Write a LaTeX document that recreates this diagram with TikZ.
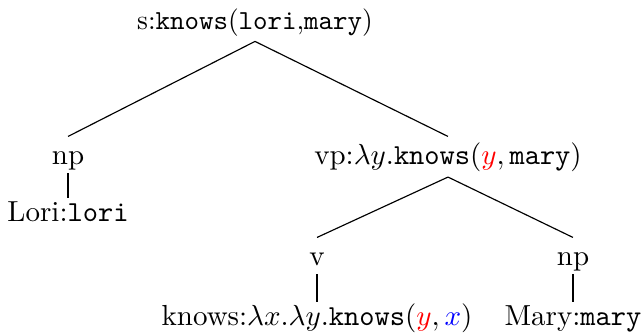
\documentclass[tikz,border=0pt]{standalone}
\begin{document}
\begin{tikzpicture}[x=0.3448pt, y=-0.3448pt,
  lab/.style={anchor=base, inner sep=0pt, outer sep=2pt, text height=7.5pt, text depth=2.5pt},
  edge/.style={draw=black, line width=0.4pt},
  vedge/.style={edge, shorten <=-1.3pt, shorten >=-1.5pt}]
\useasboundingbox (0,0) rectangle (643,332);
\node[lab, scale=0.95] (s) at (255,29) {s:\texttt{knows}(\texttt{lori},\texttt{mary})};
\node[lab] (np1) at (68,164) {np};
\node[lab] (lori) at (68,221) {Lori:\texttt{lori}};
\node[lab] (vp) at (448,164) {vp:$\lambda y.$\texttt{knows}$(\textcolor{red}{y},\texttt{mary})$};
\node[lab] (v) at (317,265) {v};
\node[lab] (knows) at (317,325) {knows:$\lambda x.\lambda y.$\texttt{knows}$(\textcolor{red}{y},\textcolor{blue}{x})$};
\node[lab] (np2) at (573,265) {np};
\node[lab] (mary) at (573,325) {Mary:\texttt{mary}};
\draw[edge] (s.south) -- (np1.north);
\draw[edge] (s.south) -- (vp.north);
\draw[vedge] (np1.south) -- (lori.north);
\draw[edge] (vp.south) -- (v.north);
\draw[edge] (vp.south) -- (np2.north);
\draw[vedge] (v.south) -- (knows.north);
\draw[vedge] (np2.south) -- (mary.north);
\end{tikzpicture}
\end{document}
